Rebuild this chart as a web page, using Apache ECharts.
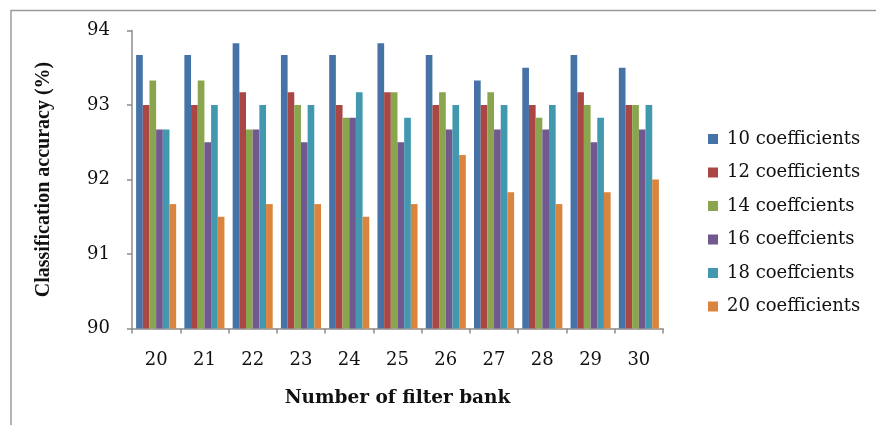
<!DOCTYPE html>
<html>
<head>
<meta charset="utf-8">
<script src="https://cdn.jsdelivr.net/npm/echarts@6/dist/echarts.min.js"></script>
<style>
  html, body { margin: 0; padding: 0; background: #fff; }
  #chart { width: 876px; height: 425px; }
</style>
</head>
<body>
<div id="chart"></div>
<script>
// Filter bank counts along the x axis
const filterBanks = ['20', '21', '22', '23', '24', '25', '26', '27', '28', '29', '30'];

// Y axis range and tick step (%)
const yMin = 90;
const yMax = 94;
const yStep = 1;

// Legend names, one per coefficient count
const seriesNames = [
  '10 coefficients',
  '12 coefficients',
  '14 coeffcients',
  '16 coeffcients',
  '18 coeffcients',
  '20 coefficients'
];

// Classification accuracy (%) per filter bank count
const acc10 = [93.67, 93.67, 93.83, 93.67, 93.67, 93.83, 93.67, 93.33, 93.5, 93.67, 93.5];
const acc12 = [93.0, 93.0, 93.17, 93.17, 93.0, 93.17, 93.0, 93.0, 93.0, 93.17, 93.0];
const acc14 = [93.33, 93.33, 92.67, 93.0, 92.83, 93.17, 93.17, 93.17, 92.83, 93.0, 93.0];
const acc16 = [92.67, 92.5, 92.67, 92.5, 92.83, 92.5, 92.67, 92.67, 92.67, 92.5, 92.67];
const acc18 = [92.67, 93.0, 93.0, 93.0, 93.17, 92.83, 93.0, 93.0, 93.0, 92.83, 93.0];
const acc20 = [91.67, 91.5, 91.67, 91.67, 91.5, 91.67, 92.33, 91.83, 91.67, 91.83, 92.0];

const seriesValues = [acc10, acc12, acc14, acc16, acc18, acc20];
const palette = ['#4572A7', '#AA4643', '#89A54E', '#71588F', '#4198AF', '#DB843D'];

const labelFont = 'DejaVu Serif';
const axisGray = '#8c8c8c';

const chart = echarts.init(document.getElementById('chart'), null, { renderer: 'canvas' });

chart.setOption({
  animation: false,
  backgroundColor: '#ffffff',
  color: palette,
  grid: { left: 132, right: 213, top: 30.5, bottom: 96.5, containLabel: false },
  legend: {
    orient: 'vertical',
    left: 703,
    top: 124,
    icon: 'rect',
    itemWidth: 10,
    itemHeight: 10,
    itemGap: 13.5,
    textStyle: {
      fontFamily: labelFont,
      fontSize: 18,
      lineHeight: 20,
      color: '#111',
      padding: [0, 0, 0, 4]
    },
    data: seriesNames
  },
  xAxis: {
    type: 'category',
    data: filterBanks,
    name: 'Number of filter bank',
    nameLocation: 'middle',
    nameGap: 60,
    nameTextStyle: {
      fontFamily: labelFont,
      fontWeight: 'bold',
      fontSize: 18.5,
      color: '#111',
      verticalAlign: 'top'
    },
    axisLine: { show: true, lineStyle: { color: axisGray, width: 1.5 } },
    axisTick: { show: true, alignWithLabel: false, length: 5, lineStyle: { color: axisGray, width: 1.5 } },
    axisLabel: { fontFamily: labelFont, fontSize: 18, color: '#111', margin: 23 },
    splitLine: { show: false }
  },
  yAxis: {
    type: 'value',
    min: yMin,
    max: yMax,
    interval: yStep,
    name: 'Classification accuracy (%)',
    nameLocation: 'middle',
    nameRotate: 90,
    nameGap: 78,
    nameTextStyle: {
      fontFamily: 'Liberation Serif',
      fontWeight: 'bold',
      fontSize: 20,
      color: '#111'
    },
    axisLine: { show: true, lineStyle: { color: axisGray, width: 1.5 } },
    axisTick: { show: true, inside: false, length: 5, lineStyle: { color: axisGray, width: 1.5 } },
    axisLabel: { fontFamily: labelFont, fontSize: 18, color: '#111', margin: 22 },
    splitLine: { show: false }
  },
  series: seriesNames.map((name, i) => ({
    name: name,
    type: 'bar',
    data: seriesValues[i],
    barGap: '0%',
    barCategoryGap: '17%',
    itemStyle: { color: palette[i] }
  })),
  graphic: [
    {
      type: 'polyline',
      silent: true,
      shape: { points: [[11, 425], [11, 10.5], [876, 10.5]] },
      style: { stroke: '#9a9a9a', lineWidth: 1.5, fill: null }
    }
  ]
});
</script>
</body>
</html>
